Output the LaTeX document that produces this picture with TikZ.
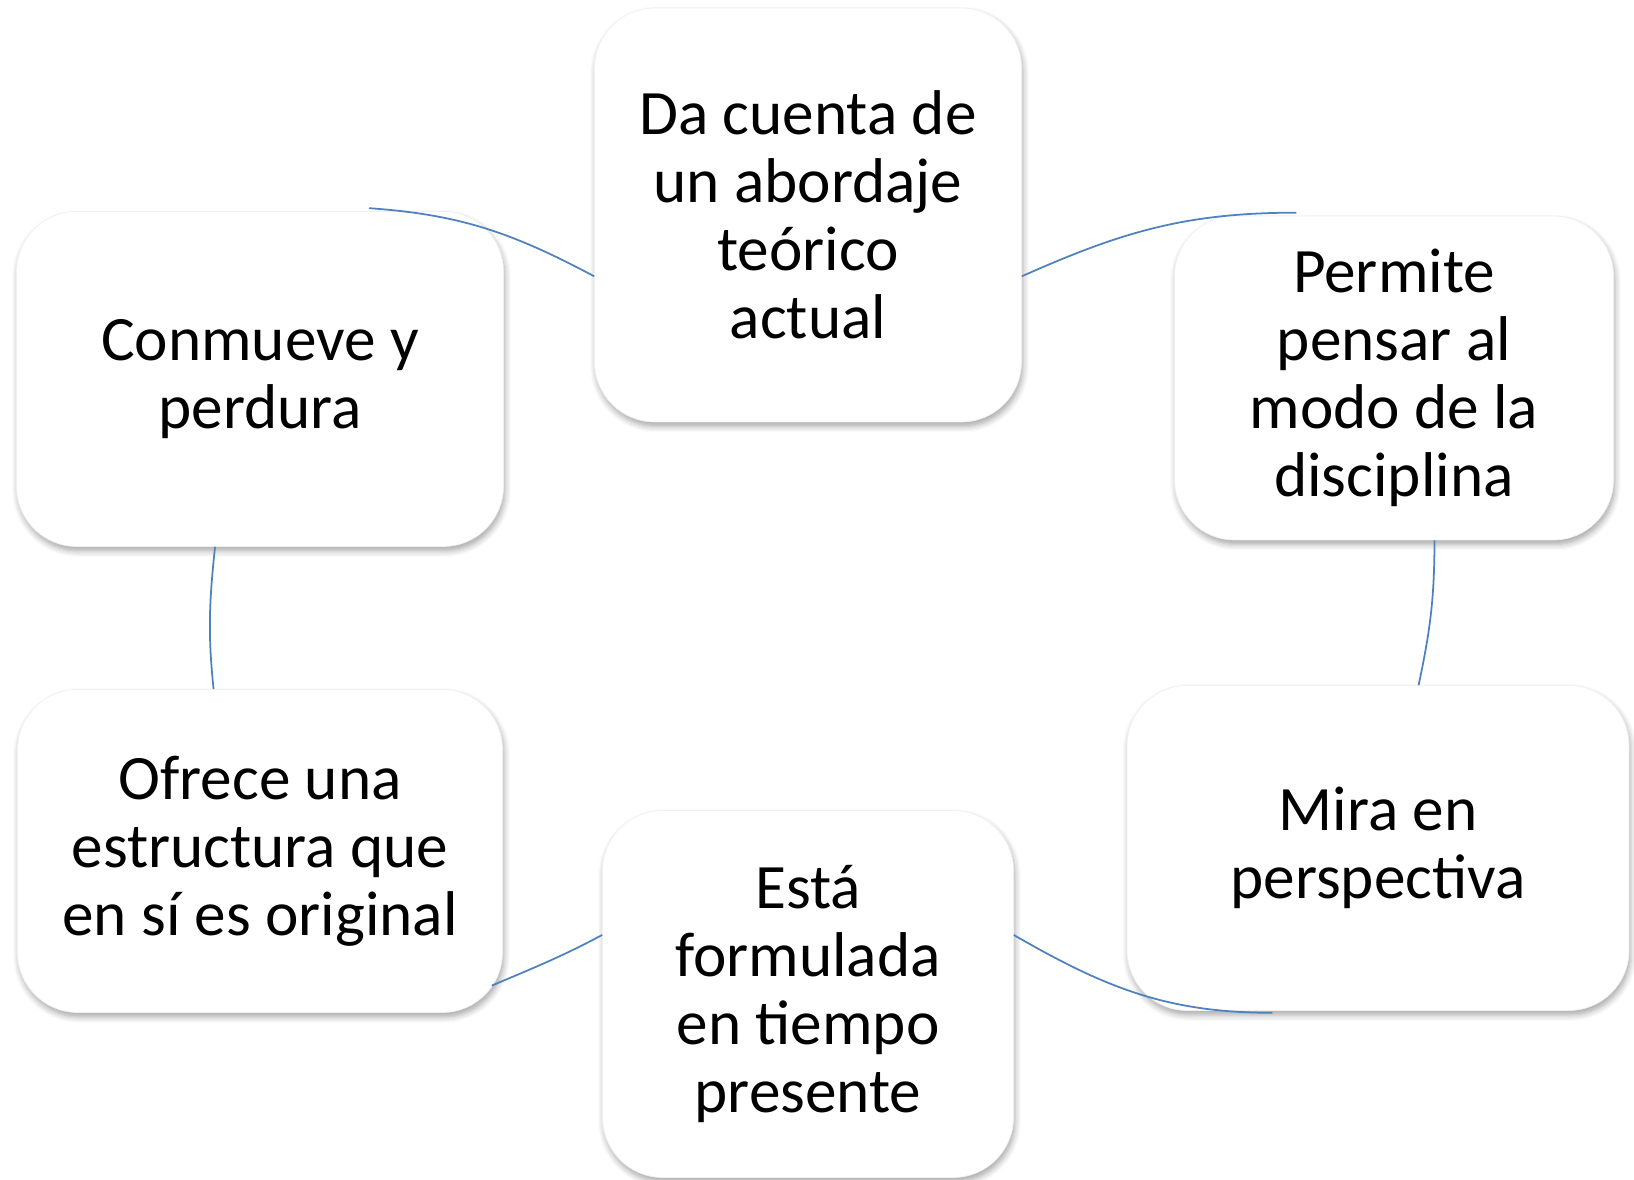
\documentclass[tikz,border=0pt]{standalone}
\usepackage{fontspec}
\setmainfont{Carlito}
\usepackage{tikz}
\usetikzlibrary{shadows,shadows.blur}
\definecolor{cycleblue}{RGB}{79,129,189}
\tikzstyle{ideabox}=[rectangle,rounded corners=1.2cm,fill=white,draw=black!6,inner sep=0pt,align=center,
  font=\fontsize{36}{38.7}\selectfont,
  blur shadow={shadow xshift=0.03cm,shadow yshift=-0.09cm,shadow blur steps=6,shadow blur radius=0.12cm,shadow opacity=35}]
\tikzstyle{cycleedge} = [draw,line width=1pt,cycleblue]

\begin{document}
\begin{tikzpicture}[x=0.02cm, y=0.02cm]
    \useasboundingbox (0,0) rectangle (1634,1180);
    % First we draw the boxes
    \foreach \pos/\name/\w/\h/\txt in {
        {(808,965)/top/8.54/8.28/{Da cuenta de\\un abordaje\\teórico\\actual}},
        {(1394,802)/rt/8.78/6.48/{Permite\\pensar al\\modo de la\\disciplina}},
        {(1378,332)/rb/10.04/6.50/{Mira en\\perspectiva}},
        {(808,186)/bot/8.22/7.34/{Está\\formulada\\en tiempo\\presente}},
        {(260,329)/lb/9.70/6.46/{Ofrece una\\estructura que\\en sí es original}},
        {(260,801)/lt/9.74/6.70/{Conmueve y\\perdura}}}
        \node[ideabox, minimum width=\w cm, minimum height=\h cm] (\name) at \pos {\txt};

    % Connect the boxes with arcs round the cycle
    \foreach \source/\sa/\sx/\sy/\dest/\da/\dx/\dy/\out/\in in {lt/57/0/3/top/196/0/0/-4/152,
        top/344/0/0/rt/121/0/3/24/180, rt/284/0/0/rb/76/0/0/-90/78,
        rb/237/0/-2/bot/16/0/0/180/-30, bot/164/0/0/lb/-29/-11/0/208/23,
        lb/106/0/0/lt/255/0/0/96/264}
        \path[cycleedge] ([shift={(\sx,\sy)}]\source.\sa) to[out=\out,in=\in] ([shift={(\dx,\dy)}]\dest.\da);
\end{tikzpicture}
\end{document}
